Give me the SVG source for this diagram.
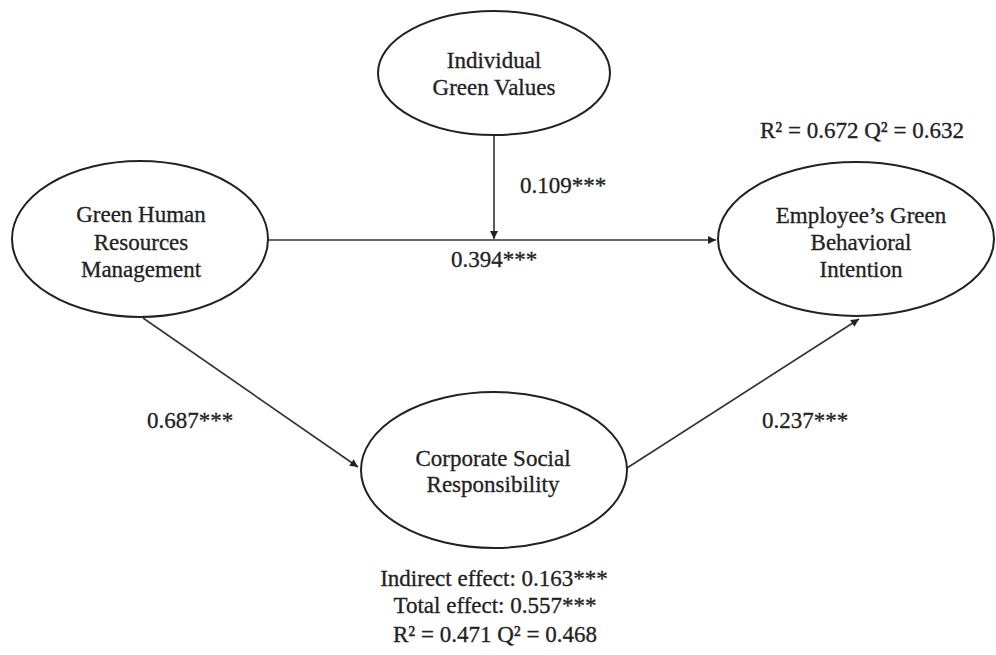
<svg xmlns="http://www.w3.org/2000/svg" width="996" height="655" viewBox="0 0 996 655">
<style>
.node{fill:#fff;stroke:#222;stroke-width:2}
.t{font-family:"Liberation Serif","Times New Roman",serif;font-size:23px;fill:#222;stroke:#222;stroke-width:0.3;text-anchor:middle}
.edge{stroke:#333;stroke-width:1.6;fill:none;marker-end:url(#ah)}
</style>
<defs>
<marker id="ah" viewBox="0 0 10 10" refX="10" refY="5" markerWidth="9" markerHeight="8" markerUnits="userSpaceOnUse" orient="auto">
<path d="M0,0 L10,5 L0,10 z" fill="#222"/>
</marker>
</defs>
<rect width="996" height="655" fill="#fff"/>
<g id="connectors">
<line class="edge" x1="494" y1="135" x2="494" y2="239"/>
<line class="edge" x1="268" y1="240" x2="716" y2="240"/>
<line class="edge" x1="143" y1="318" x2="358" y2="467"/>
<line class="edge" x1="627" y1="468" x2="859" y2="319"/>
</g>
<g id="node-igv">
<ellipse class="node" cx="494" cy="73" rx="116" ry="62"/>
<text class="t" x="494" y="68">Individual</text>
<text class="t" x="494" y="95">Green Values</text>
</g>
<g id="node-ghrm">
<ellipse class="node" cx="140" cy="239" rx="128" ry="78"/>
<text class="t" x="141" y="222">Green Human</text>
<text class="t" x="141" y="250">Resources</text>
<text class="t" x="141" y="277">Management</text>
</g>
<g id="node-egbi">
<ellipse class="node" cx="856" cy="239" rx="138" ry="77"/>
<text class="t" x="861" y="223">Employee’s Green</text>
<text class="t" x="861" y="250">Behavioral</text>
<text class="t" x="861" y="277">Intention</text>
</g>
<g id="node-csr">
<ellipse class="node" cx="494" cy="470" rx="133" ry="78"/>
<text class="t" x="493" y="466">Corporate Social</text>
<text class="t" x="493" y="492">Responsibility</text>
</g>
<g id="labels">
<text class="t" x="862" y="138">R² = 0.672 Q² = 0.632</text>
<text class="t" x="563" y="193">0.109***</text>
<text class="t" x="494" y="267">0.394***</text>
<text class="t" x="190" y="428">0.687***</text>
<text class="t" x="805" y="428">0.237***</text>
<text class="t" x="494" y="586">Indirect effect: 0.163***</text>
<text class="t" x="495" y="613">Total effect: 0.557***</text>
<text class="t" x="495" y="642">R² = 0.471 Q² = 0.468</text>
</g>
</svg>
